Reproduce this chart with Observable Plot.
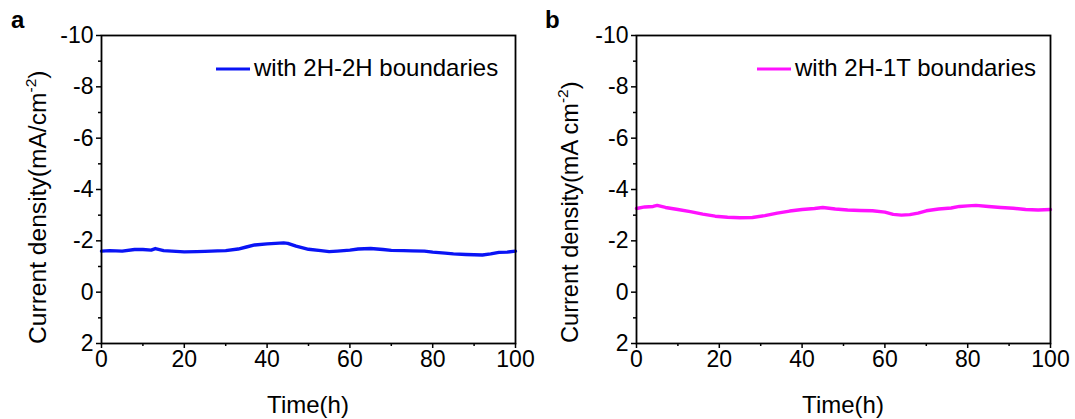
<!DOCTYPE html>
<html>
<head>
<meta charset="utf-8">
<script src="https://cdn.jsdelivr.net/npm/d3@7"></script>
<script src="https://cdn.jsdelivr.net/npm/@observablehq/plot@0.6"></script>
<style>
  body { margin: 0; background: white; }
  #wrap { display: flex; width: 1075px; height: 419px; }
</style>
</head>
<body>
<div id="wrap"></div>
<script>
// ---- data ----
const timeA = [0, 2, 5, 8, 10, 12, 13, 15, 18, 20, 23, 25, 28, 30, 33, 35, 37, 40, 42, 44, 45, 47, 50, 53, 55, 57, 60, 62, 65, 68, 70, 73, 75, 78, 80, 83, 85, 88, 90, 92, 94, 96, 98, 100];
const valA  = [-1.60, -1.62, -1.60, -1.66, -1.66, -1.64, -1.70, -1.62, -1.59, -1.57, -1.58, -1.59, -1.61, -1.62, -1.68, -1.76, -1.84, -1.88, -1.90, -1.92, -1.90, -1.79, -1.67, -1.62, -1.58, -1.60, -1.64, -1.68, -1.70, -1.66, -1.63, -1.62, -1.61, -1.60, -1.56, -1.52, -1.49, -1.47, -1.46, -1.45, -1.49, -1.55, -1.56, -1.60];

const timeB = [0, 2, 4, 5, 7, 10, 13, 16, 19, 22, 25, 28, 31, 34, 37, 40, 43, 45, 48, 51, 54, 57, 60, 62, 64, 66, 68, 70, 73, 76, 78, 80, 82, 85, 88, 91, 94, 97, 100];
const valB  = [-3.26, -3.32, -3.34, -3.38, -3.30, -3.22, -3.14, -3.04, -2.96, -2.92, -2.90, -2.91, -2.98, -3.08, -3.16, -3.22, -3.26, -3.30, -3.24, -3.20, -3.18, -3.17, -3.12, -3.03, -3.00, -3.02, -3.08, -3.17, -3.24, -3.28, -3.34, -3.36, -3.38, -3.34, -3.30, -3.27, -3.22, -3.20, -3.22];

const xTicks = [0, 20, 40, 60, 80, 100];
const xMinor = [10, 30, 50, 70, 90];
const yTicks = [-10, -8, -6, -4, -2, 0, 2];
const yMinor = [-9, -7, -5, -3, -1, 1];

const panels = [
  {letter: "a", time: timeA, val: valA, color: "#0a14f5", legend: "with 2H-2H boundaries",
   yLabel: ["Current density(mA/cm", "-2", ")"], width: 537, marginLeft: 101, marginRight: 22,
   legendX: 216, letterX: 11, titleX: 46, titleY: 344, titleFS: 24.6},
  {letter: "b", time: timeB, val: valB, color: "#ff12ff", legend: "with 2H-1T boundaries",
   yLabel: ["Current density(mA cm", "-2", ")"], width: 538, marginLeft: 99, marginRight: 25,
   legendX: 220, letterX: 8, titleX: 41, titleY: 343, titleFS: 23.6}
];

const FONT = "'Liberation Sans', Arial, sans-serif";
const FS = 23;

for (const p of panels) {
  const data = p.time.map((t, i) => ({t, v: p.val[i]}));
  const chart = Plot.plot({
    width: p.width,
    height: 419,
    marginLeft: p.marginLeft,
    marginRight: p.marginRight,
    marginTop: 35,
    marginBottom: 76,
    style: {fontFamily: FONT, fontSize: FS + "px", color: "black", background: "white", overflow: "visible"},
    x: {domain: [0, 100]},
    y: {domain: [2, -10]},
    marks: [
      Plot.line(data, {x: "t", y: "v", stroke: p.color, strokeWidth: 3.4}),
      Plot.axisX(xTicks, {tickSize: 5, tickPadding: 2, strokeWidth: 1.5, tickFormat: d => String(d), label: null, fontSize: FS}),
      Plot.axisX(xMinor, {tickSize: 3, strokeWidth: 1.5, tickFormat: () => "", label: null}),
      Plot.axisY(yTicks, {tickSize: 5, tickPadding: 3, strokeWidth: 1.5, tickFormat: d => String(d), label: null, fontSize: FS}),
      Plot.axisY(yMinor, {tickSize: 3, strokeWidth: 1.5, tickFormat: () => "", label: null}),
      Plot.frame({stroke: "black", strokeWidth: 1.8})
    ]
  });
  const svg = d3.select(chart);
  // panel letter
  svg.append("text").attr("x", p.letterX).attr("y", 28).attr("text-anchor", "start")
    .attr("font-family", FONT).attr("font-weight", "bold").attr("font-size", 24).attr("fill", "black")
    .text(p.letter);
  // legend
  svg.append("line").attr("x1", p.legendX).attr("x2", p.legendX + 34).attr("y1", 69).attr("y2", 69)
    .attr("stroke", p.color).attr("stroke-width", 3);
  svg.append("text").attr("x", p.legendX + 38).attr("y", 76).attr("text-anchor", "start")
    .attr("font-family", FONT).attr("font-size", FS + 1).attr("fill", "black").text(p.legend);
  // x title
  svg.append("text").attr("x", (p.marginLeft + p.width - p.marginRight) / 2).attr("y", 413)
    .attr("text-anchor", "middle").attr("font-family", FONT).attr("font-size", FS + 1).attr("fill", "black")
    .text("Time(h)");
  // y title
  const yt = svg.append("text")
    .attr("transform", `translate(${p.titleX},${p.titleY}) rotate(-90)`).attr("text-anchor", "start")
    .attr("font-family", FONT).attr("font-size", p.titleFS).attr("fill", "black");
  yt.append("tspan").text(p.yLabel[0]);
  yt.append("tspan").attr("font-size", 15.5).attr("dy", -10).text(p.yLabel[1]);
  yt.append("tspan").attr("dy", 10).text(p.yLabel[2]);
  document.getElementById("wrap").appendChild(chart);
}
</script>
</body>
</html>
